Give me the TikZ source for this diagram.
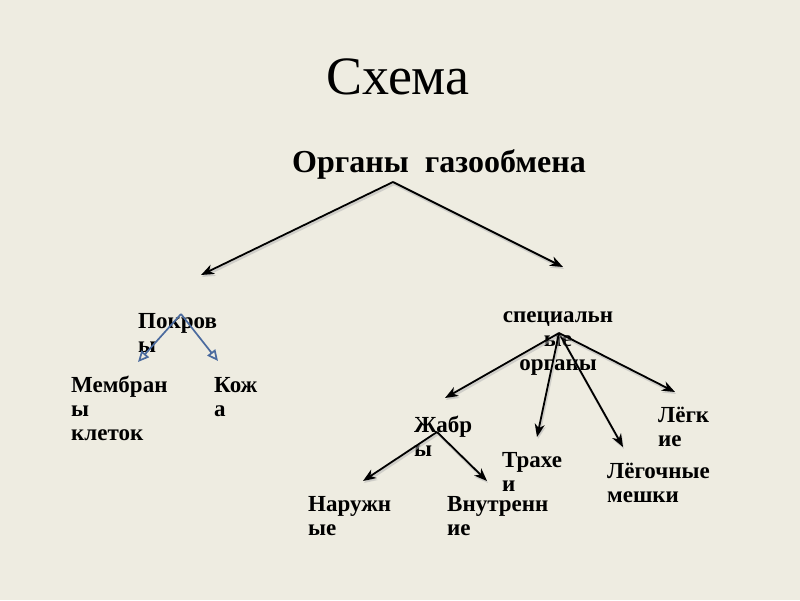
\documentclass[tikz,border=0pt]{standalone}
\usepackage{fontspec}
\setmainfont{Liberation Serif}
\usetikzlibrary{arrows.meta}
\definecolor{bg}{HTML}{EEECE1}
\definecolor{bluearr}{HTML}{4A6A9E}
\tikzset{
  lbl/.style={anchor=base west, inner sep=0pt, font=\fontsize{23}{24}\selectfont\bfseries},
  arr/.style={draw=black, line width=1.8pt, -{Stealth[length=13pt,width=10pt,inset=4pt]},
    preaction={draw=black!30, opacity=0.5, line width=2.4pt, transform canvas={shift={(1pt,-2pt)}}}},
  barr/.style={draw=bluearr, line width=1.7pt, -{Triangle[open,length=11pt,width=10pt]}},
}
\newcommand\stk[1]{\begin{tabular}[t]{@{}l@{}}#1\end{tabular}}
\newcommand\stc[1]{\begin{tabular}[t]{@{}c@{}}#1\end{tabular}}
\begin{document}
\begin{tikzpicture}[x=1pt,y=-1pt]
\fill[bg] (0,0) rectangle (800,600);
\useasboundingbox (0,0) rectangle (800,600);

\node (title) [anchor=base, inner sep=0pt, font=\fontsize{54}{60}\selectfont] at (398,94) {Схема};
\node (root) [anchor=base west, inner sep=0pt, font=\fontsize{32}{36}\selectfont\bfseries] at (292,172) {Органы\ \ газообмена};

\node (pokr) [lbl] at (138,328) {\stk{Покров\\ы}};
\node (memb) [lbl] at (71,392) {\stk{Мембран\\ы\\клеток}};
\node (kozh) [lbl] at (214,392) {\stk{Кож\\а}};

\node (spec) [lbl, anchor=base] at (558,322) {\stc{специальн\\ые\\органы}};
\node (zhab) [lbl] at (414,432) {\stk{Жабр\\ы}};
\node (trah) [lbl] at (502,467) {\stk{Трахе\\и}};
\node (legm) [lbl] at (607,478) {\stk{Лёгочные\\мешки}};
\node (legk) [lbl] at (658,422) {\stk{Лёгк\\ие}};
\node (naru) [lbl] at (308,511) {\stk{Наружн\\ые}};
\node (vnut) [lbl] at (447,511) {\stk{Внутренн\\ие}};

% apex and tip coordinates
\coordinate (rootA) at (393,182);
\coordinate (tPokr) at (201,275);
\coordinate (tSpec) at (563,267);
\coordinate (pokrA) at (181,314);
\coordinate (tMemb) at (138,362);
\coordinate (tKozh) at (218,361);
\coordinate (specA) at (559,333);
\coordinate (tZhab) at (445,398);
\coordinate (tTrah) at (537,437);
\coordinate (tLegm) at (623,447);
\coordinate (tLegk) at (675,392);
\coordinate (zhabA) at (437,432);
\coordinate (tNaru) at (363,481);
\coordinate (tVnut) at (487,481);

\draw[arr] (rootA) -- (tPokr);
\draw[arr] (rootA) -- (tSpec);
\draw[barr] (pokrA) -- (tMemb);
\draw[barr] (pokrA) -- (tKozh);
\draw[arr] (specA) -- (tZhab);
\draw[arr] (specA) -- (tTrah);
\draw[arr] (specA) -- (tLegm);
\draw[arr] (specA) -- (tLegk);
\draw[arr] (zhabA) -- (tNaru);
\draw[arr] (zhabA) -- (tVnut);
\end{tikzpicture}
\end{document}
